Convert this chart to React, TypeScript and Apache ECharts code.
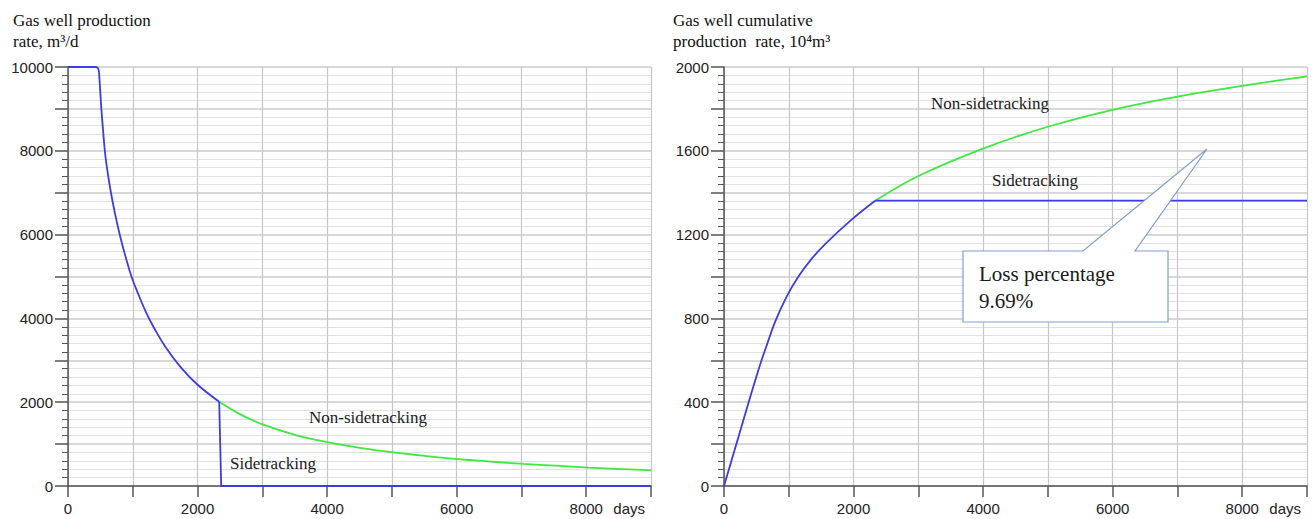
import React, { useEffect, useRef } from "react";
import * as echarts from "echarts";

// ---- data ----
const xLabelValues = [0, 2000, 4000, 6000, 8000];
const rateLabelValues = [0, 2000, 4000, 6000, 8000, 10000];
const cumLabelValues = [0, 400, 800, 1200, 1600, 2000];

// Left chart: production rate, m3/d
const rateSideHead = [[0, 10000], [430, 10000], [455, 9985], [470, 9945], [480, 9860]];
const rateSideCurve = [
  [480, 9860], [516, 8980], [531, 8680], [567, 8025], [593, 7690], [655, 7070],
  [722, 6530], [799, 5995], [876, 5540], [980, 5000], [1082, 4590], [1212, 4120],
  [1340, 3740], [1521, 3280], [1726, 2860], [1984, 2440], [2334, 2010],
];
const rateSideTail = [[2334, 2010], [2365, 0], [9000, 0]];
const rateNonSide = [
  [2334, 2010], [2654, 1716], [3014, 1464], [3530, 1211], [4018, 1043],
  [4508, 911], [5023, 803], [5539, 715], [6028, 642], [6518, 584],
  [7032, 528], [7522, 484], [8037, 440], [8527, 405], [9000, 374],
];

// Right chart: cumulative production, 10^4 m3
const cumSideCurve = [
  [0, 0], [376, 395], [470, 492], [556, 578], [680, 690], [790, 785],
  [969, 905], [1149, 1000], [1355, 1085], [1561, 1155], [1974, 1273], [2334, 1362],
];
const cumSideFlat = [[2334, 1362], [9000, 1362]];
const cumNonSide = [
  [2334, 1362], [3003, 1480], [4008, 1612], [5012, 1716], [6017, 1797],
  [7022, 1860], [8026, 1911], [9000, 1955],
];

const BLUE = "#3c3ce4";
const GREEN = "#3ee83e";
const AXIS = "#555555";
const SANS = '"Liberation Sans", Arial, sans-serif';
const SERIF = '"Liberation Serif", "Times New Roman", serif';

function xAxisFor(gridIndex: number) {
  return {
    type: "value",
    gridIndex,
    min: 0,
    max: 9000,
    interval: 1000,
    name: "days",
    nameLocation: "end",
    nameGap: -6,
    nameTextStyle: {
      fontFamily: SANS,
      fontSize: 15,
      color: "#222",
      align: "right",
      verticalAlign: "top",
      padding: [15, 0, 0, 0],
    },
    axisLine: { show: true, lineStyle: { color: AXIS, width: 1.5 } },
    axisTick: { show: true, length: 11, lineStyle: { color: AXIS, width: 1.5 } },
    axisLabel: {
      margin: 15,
      fontFamily: SANS,
      fontSize: 15,
      color: "#222",
      formatter: (v: number) => (xLabelValues.includes(v) ? String(v) : ""),
    },
    splitLine: { show: true, lineStyle: { color: "#c6c6c6", width: 1.2 } },
  };
}

function yAxisFor(gridIndex: number, max: number, interval: number, labels: number[]) {
  return {
    type: "value",
    gridIndex,
    min: 0,
    max,
    interval,
    axisLine: { show: true, lineStyle: { color: AXIS, width: 1.5 } },
    axisTick: { show: true, length: 13, lineStyle: { color: AXIS, width: 1.5 } },
    minorTick: { show: true, splitNumber: 5, length: 6, lineStyle: { color: AXIS, width: 1 } },
    axisLabel: {
      margin: 15,
      fontFamily: SANS,
      fontSize: 15,
      color: "#222",
      formatter: (v: number) => (labels.includes(v) ? String(v) : ""),
    },
    splitLine: { show: true, lineStyle: { color: "#cbcbcb", width: 1.5 } },
    minorSplitLine: { show: true, lineStyle: { color: "#e0e0e0", width: 1 } },
  };
}

function line(data: number[][], color: string, xi: number, smooth: boolean | number, z = 2) {
  return {
    type: "line",
    xAxisIndex: xi,
    yAxisIndex: xi,
    data,
    smooth,
    showSymbol: false,
    symbol: "none",
    z,
    lineStyle: { color, width: 1.8 },
  };
}

const labelStyle = (text: string, x: number, y: number, size = 17) => ({
  type: "text",
  x,
  y,
  z: 20,
  style: { text, font: `${size}px ${SERIF}`, fill: "#1a1a1a" },
});

export default function App() {
  const ref = useRef<HTMLDivElement>(null);
  useEffect(() => {
    if (!ref.current) return;
    const chart = echarts.init(ref.current, undefined, { renderer: "svg" });
    chart.setOption({
      animation: false,
      backgroundColor: "#ffffff",
      grid: [
        { left: 68, top: 67, width: 583, height: 419 },
        { left: 724, top: 67, width: 583, height: 419 },
      ],
      xAxis: [xAxisFor(0), xAxisFor(1)],
      yAxis: [
        yAxisFor(0, 10000, 1000, rateLabelValues),
        yAxisFor(1, 2000, 200, cumLabelValues),
      ],
      series: [
        line(rateNonSide, GREEN, 0, 0.4, 2),
        line(rateSideHead, BLUE, 0, 0.3, 3),
        line(rateSideCurve, BLUE, 0, 0.4, 3),
        line(rateSideTail, BLUE, 0, false, 3),
        line(cumNonSide, GREEN, 1, 0.4, 2),
        line(cumSideCurve, BLUE, 1, 0.4, 3),
        line(cumSideFlat, BLUE, 1, false, 3),
      ],
      graphic: [
        {
          type: "text",
          x: 13,
          y: 10,
          style: {
            text: "Gas well production\nrate, m³/d",
            font: `17px ${SERIF}`,
            lineHeight: 21,
            fill: "#111",
          },
        },
        {
          type: "text",
          x: 673,
          y: 10,
          style: {
            text: "Gas well cumulative\nproduction  rate, 10⁴m³",
            font: `17px ${SERIF}`,
            lineHeight: 21,
            fill: "#111",
          },
        },
        labelStyle("Non-sidetracking", 309, 409),
        labelStyle("Sidetracking", 230, 455),
        labelStyle("Non-sidetracking", 931, 95),
        labelStyle("Sidetracking", 992, 172),
        {
          type: "polygon",
          z: 30,
          shape: {
            points: [
              [963, 251], [1083, 251], [1207, 149], [1135, 251],
              [1168, 251], [1168, 322], [963, 322],
            ],
          },
          style: { fill: "#ffffff", stroke: "#7f9dcf", lineWidth: 1.2 },
        },
        {
          type: "text",
          x: 979,
          y: 260,
          z: 31,
          style: {
            text: "Loss percentage\n9.69%",
            font: `21px ${SERIF}`,
            lineHeight: 27,
            fill: "#1a1a1a",
          },
        },
      ],
    });
    return () => chart.dispose();
  }, []);
  return (
    <div
      ref={ref}
      style={{ position: "absolute", left: 0, top: 0, width: 1314, height: 519 }}
    />
  );
}
